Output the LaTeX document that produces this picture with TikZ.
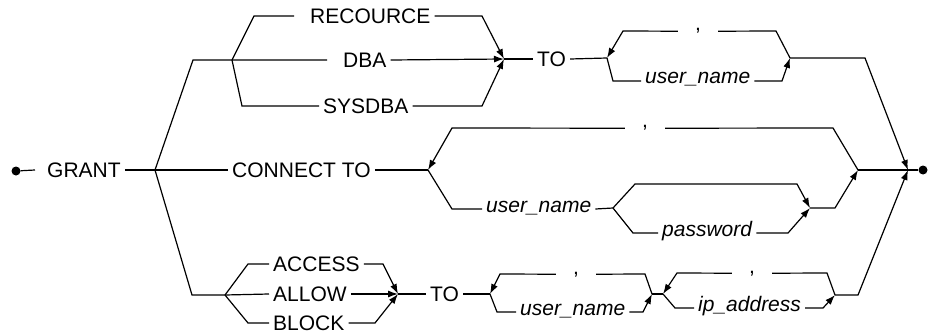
\documentclass[tikz,border=0pt]{standalone}
\usepackage{fontspec}
\setmainfont{Liberation Sans}
\usetikzlibrary{arrows.meta}

\begin{document}
\begin{tikzpicture}[x=1pt, y=-1pt,
  rail/.style={line width=1.2pt},
  railarr/.style={rail, -{Latex[length=10pt,width=7pt]}},
  kw/.style={font=\fontsize{21}{24}\selectfont, inner xsep=4pt, inner ysep=0pt, text height=15pt, text depth=0pt, anchor=west},
  var/.style={kw, font=\fontsize{21}{24}\selectfont\itshape, text height=6pt},
  sepc/.style={font=\fontsize{21}{24}\selectfont, inner xsep=17pt, inner ysep=0pt, anchor=base},
  enddot/.style={circle, fill, inner sep=0pt, minimum size=9pt}]
\useasboundingbox (0,0) rectangle (928,334);
\coordinate (fg) at (155,170);
\coordinate (fr) at (232,60);
\coordinate (jr) at (504,59);
\coordinate (fu1) at (607,58);
\coordinate (ju1) at (790,58);
\coordinate (fc) at (428,170);
\coordinate (jc) at (858,170);
\coordinate (fp) at (613,208);
\coordinate (jp) at (810,208);
\coordinate (fb) at (225,295);
\coordinate (jb) at (398,294);
\coordinate (fu3) at (490,294);
\coordinate (ju3) at (652,294);
\coordinate (fi) at (663,294);
\coordinate (ji) at (835,295);
\coordinate (fin) at (908,170);
\node[enddot] (start) at (16,171) {};
\node[enddot] (stop) at (923,170) {};
\node[kw] (grant) at (43,170) {GRANT};
\node[kw] (recource) at (306,16) {RECOURCE};
\node[kw] (dba) at (339,60) {DBA};
\node[kw] (sysdba) at (319,106) {SYSDBA};
\node[kw] (to1) at (533,59) {TO};
\node[sepc] (comma1) at (698,31) {,};
\node[var] (uname1) at (641,81) {user\_name};
\node[kw] (connect) at (228,170) {CONNECT TO};
\node[sepc] (comma2) at (645,128) {,};
\node[var] (uname2) at (482,209) {user\_name};
\node[var] (pwd) at (658,233) {password};
\node[kw] (access) at (269,264) {ACCESS};
\node[kw] (allow) at (269,294) {ALLOW};
\node[kw] (block) at (269,323) {BLOCK};
\node[kw] (to2) at (426,294) {TO};
\node[sepc] (comma3) at (576,274) {,};
\node[var] (uname3) at (516,312) {user\_name};
\node[sepc] (comma4) at (752,273) {,};
\node[var] (ip) at (694,308) {ip\_address};
\draw[rail] (start) -- ([xshift=-8pt]grant.west);
\draw[rail] (grant.east) -- (connect.west);
\draw[rail] (fg) -- (193,60) -- ([xshift=-12pt]dba.west);
\draw[rail] (fr) -- (254,16) -- ([xshift=-12pt]recource.west);
\draw[railarr] (recource.east) -- (482,16) -- (jr);
\draw[railarr] (dba.east) -- (jr);
\draw[rail] (fr) -- (242,106) -- (sysdba.west);
\draw[railarr] (sysdba.east) -- (482,106) -- (jr);
\draw[rail] (jr) -- (to1.west);
\draw[rail] (to1.east) -- (fu1);
\draw[rail] (fu1) -- (613,81) -- (uname1.west);
\draw[railarr] (uname1.east) -- (782,81) -- (ju1);
\draw[rail] (ju1) -- (776,31) -- (comma1.east);
\draw[railarr] (comma1.west) -- (623,31) -- (fu1);
\draw[railarr] (ju1) -- (865,58) -- (fin);
\draw[rail] (connect.east) -- (fc);
\draw[rail] (fc) -- (452,209) -- (uname2.west);
\draw[rail] (uname2.east) -- (fp);
\draw[railarr] (fp) -- (635,184) -- (797,184) -- (jp);
\draw[rail] (fp) -- (633,233) -- (pwd.west);
\draw[railarr] (pwd.east) -- (788,233) -- (jp);
\draw[railarr] (jp) -- (835,208) -- (jc);
\draw[rail] (jc) -- (833,128) -- (comma2.east);
\draw[railarr] (comma2.west) -- (452,128) -- (fc);
\draw[rail] (jc) -- (fin);
\draw[rail] (fg) -- (192,295) -- (fb);
\draw[rail] (fb) -- (248,264) -- (access.west);
\draw[rail] (fb) -- (allow.west);
\draw[rail] (fb) -- (248,323) -- (block.west);
\draw[railarr] (access.east) -- (383,264) -- (jb);
\draw[railarr] (allow.east) -- (jb);
\draw[railarr] (block.east) -- (375,323) -- (jb);
\draw[rail] (jb) -- (to2.west);
\draw[rail] (to2.east) -- (fu3);
\draw[rail] (fu3) -- (497,312) -- (uname3.west);
\draw[railarr] (uname3.east) -- (643,312) -- (ju3);
\draw[rail] (ju3) -- (645,274) -- (comma3.east);
\draw[railarr] (comma3.west) -- (500,274) -- (fu3);
\draw[rail] (ju3) -- (fi);
\draw[rail] (fi) -- (675,308) -- (ip.west);
\draw[railarr] (ip.east) -- (823,308) -- (ji);
\draw[rail] (ji) -- (827,273) -- (comma4.east);
\draw[railarr] (comma4.west) -- (677,273) -- (fi);
\draw[railarr] (ji) -- (858,295) -- (fin);
\draw[rail] (fin) -- (stop);
\end{tikzpicture}
\end{document}
